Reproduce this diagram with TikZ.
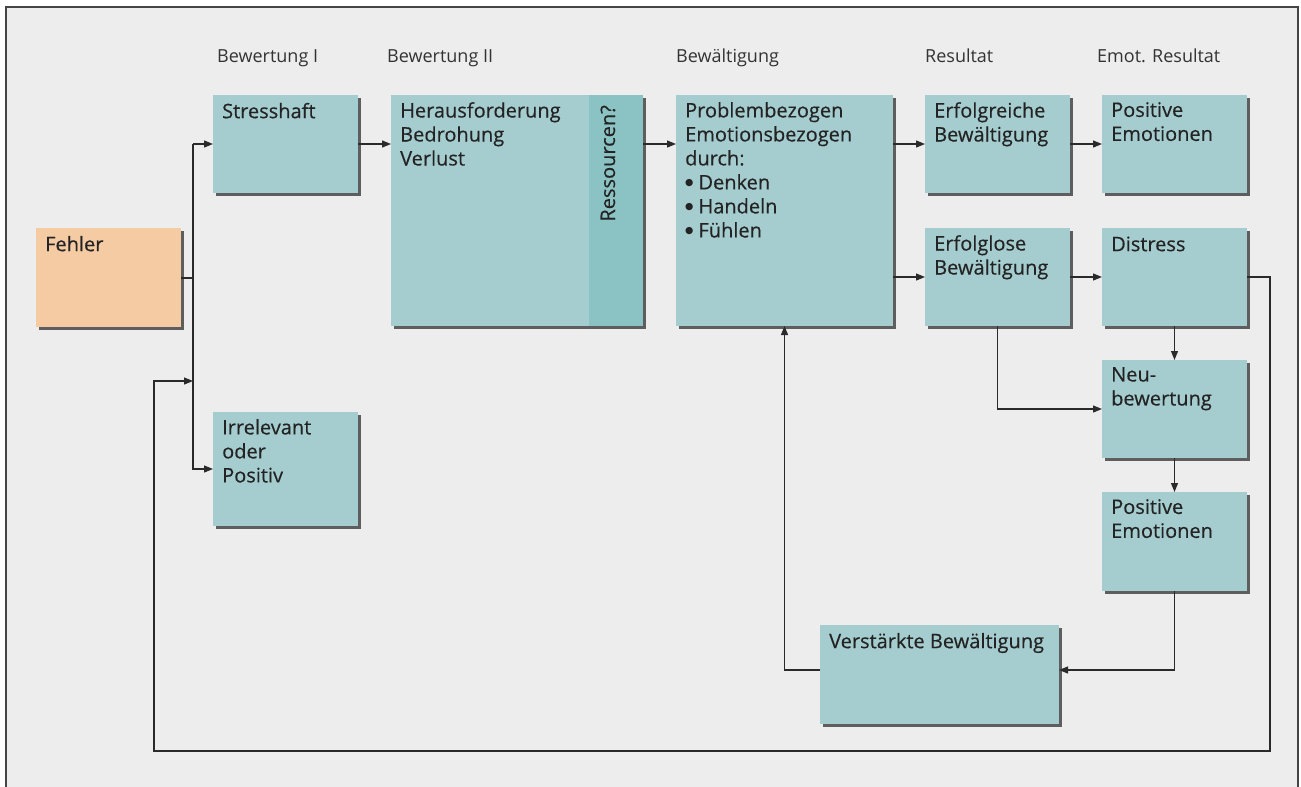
\documentclass[tikz,border=0pt]{standalone}
\usepackage{fontspec}
\setmainfont{Open Sans}
\newfontfamily\boxfamily{Open Sans}[FakeBold=0.35]
\newfontfamily\symfamily{DejaVu Sans}
\usetikzlibrary{arrows.meta,shadows}

\definecolor{framebg}{HTML}{EDEDED}
\definecolor{framebd}{HTML}{454545}
\definecolor{teal}{HTML}{A5CDCF}
\definecolor{tealdark}{HTML}{8BC2C3}
\definecolor{peach}{HTML}{F4CBA3}
\definecolor{ink}{HTML}{232323}
\definecolor{headink}{HTML}{333333}
\definecolor{wire}{HTML}{2A2A2A}

% list bullet as set in the boxes
\newcommand{\dotitem}{{\symfamily\fontsize{9.5}{24}\selectfont\raisebox{3.5pt}{●}}\hspace{5pt}}

\tikzset{
  box/.style={rectangle, fill=teal, inner sep=0pt, outer sep=0pt, anchor=north west,
    drop shadow={shadow xshift=2.5pt, shadow yshift=-2.5pt, fill=black, opacity=0.6}},
  errbox/.style={box, fill=peach},
  boxtext/.style={anchor=north west, inner sep=0pt, align=left, text=ink,
    font=\boxfamily\fontsize{20}{24}\selectfont, execute at begin node={\rule{0pt}{16pt}}},
  head/.style={anchor=base west, inner sep=0pt, text=headink,
    font=\fontsize{18}{22}\selectfont},
  wireline/.style={draw=wire, line width=1.2pt},
  arrow/.style={wireline, -{Triangle[length=9pt,width=7pt]}},
}

\begin{document}
\begin{tikzpicture}[x=1pt, y=-1pt]
  \useasboundingbox (0,0) rectangle (1301,787);
  \fill[white] (0,0) rectangle (1301,787);

  % frame
  \fill[framebg] (6,7) rectangle (1298,787);
  \draw[framebd, line width=1.6pt] (6,787) -- (6,7) -- (1298,7) -- (1298,787);

  % column headings
  \node[head] (h1) at (217,62) {Bewertung I};
  \node[head] (h2) at (387,62) {Bewertung II};
  \node[head] (h3) at (676,62) {Bewältigung};
  \node[head] (h4) at (925,62) {Resultat};
  \node[head] (h5) at (1097,62) {Emot. Resultat};

  % boxes
  \node[errbox, minimum width=145pt, minimum height=99pt] (fehler) at (36,228) {};
  \node[box, minimum width=145pt, minimum height=98pt] (stress) at (213,95) {};
  \node[box, minimum width=145pt, minimum height=114pt] (irr) at (213,412) {};
  \node[box, minimum width=252pt, minimum height=231pt] (bew2) at (391,95) {};
  \node[rectangle, fill=tealdark, inner sep=0pt, outer sep=0pt, anchor=north east,
        minimum width=54pt, minimum height=231pt] (res) at (bew2.north east) {};
  \node[box, minimum width=217pt, minimum height=231pt] (bewael) at (676,95) {};
  \node[box, minimum width=145pt, minimum height=98pt] (erfolgr) at (925,95) {};
  \node[box, minimum width=145pt, minimum height=98pt] (pos1) at (1102,95) {};
  \node[box, minimum width=145pt, minimum height=98pt] (erfolgl) at (925,228) {};
  \node[box, minimum width=145pt, minimum height=98pt] (distress) at (1102,228) {};
  \node[box, minimum width=145pt, minimum height=98pt] (neu) at (1102,360) {};
  \node[box, minimum width=145pt, minimum height=99pt] (pos2) at (1102,492) {};
  \node[box, minimum width=239pt, minimum height=99pt] (verst) at (820,625) {};

  % box texts
  \node[boxtext] (fehler-t) at ([xshift=9pt,yshift=-7pt]fehler.north west) {Fehler};
  \node[boxtext] (stress-t) at ([xshift=9pt,yshift=-7pt]stress.north west) {Stresshaft};
  \node[boxtext] (irr-t) at ([xshift=9pt,yshift=-7pt]irr.north west) {Irrelevant\\oder\\Positiv};
  \node[boxtext] (bew2-t) at ([xshift=9pt,yshift=-7pt]bew2.north west) {Herausforderung\\Bedrohung\\Verlust};
  \node[anchor=base east, inner sep=0pt, rotate=90, text=ink,
        font=\boxfamily\fontsize{20}{24}\selectfont] (res-t) at (615,105) {Ressourcen?};
  \node[boxtext] (bewael-t) at ([xshift=9pt,yshift=-7pt]bewael.north west)
    {Problembezogen\\Emotionsbezogen\\durch:\\\dotitem Denken\\\dotitem Handeln\\\dotitem Fühlen};
  \node[boxtext] (erfolgr-t) at ([xshift=9pt,yshift=-7pt]erfolgr.north west) {Erfolgreiche\\Bewältigung};
  \node[boxtext] (pos1-t) at ([xshift=9pt,yshift=-7pt]pos1.north west) {Positive\\Emotionen};
  \node[boxtext] (erfolgl-t) at ([xshift=9pt,yshift=-7pt]erfolgl.north west) {Erfolglose\\Bewältigung};
  \node[boxtext] (distress-t) at ([xshift=9pt,yshift=-7pt]distress.north west) {Distress};
  \node[boxtext] (neu-t) at ([xshift=9pt,yshift=-7pt]neu.north west) {Neu-\\bewertung};
  \node[boxtext] (pos2-t) at ([xshift=9pt,yshift=-7pt]pos2.north west) {Positive\\Emotionen};
  \node[boxtext] (verst-t) at ([xshift=9pt,yshift=-7pt]verst.north west) {Verstärkte Bewältigung};

  % routing points
  \coordinate (busx) at (193,0);
  \coordinate (fbR) at (1270,751);
  \coordinate (fbL) at (154,381);
  \coordinate (fbIn) at (193,381);
  \coordinate (vy) at (0,670);

  % connectors
  \draw[wireline, line width=2pt] (fehler.east) -- (fehler.east -| busx);
  \draw[arrow] (stress.west -| busx) -- (stress.west);
  \draw[arrow] (stress.west -| busx) |- (irr.west);
  \draw[arrow] (stress.east) -- (stress.east -| bew2.west);
  \draw[arrow] (bew2.east |- stress.east) -- (bewael.west |- stress.east);
  \draw[arrow] (bewael.east |- erfolgr.west) -- (erfolgr.west);
  \draw[arrow] (bewael.east |- erfolgl.west) -- (erfolgl.west);
  \draw[arrow] (erfolgr.east) -- (pos1.west);
  \draw[arrow] (erfolgl.east) -- (distress.west);
  \draw[arrow] (distress.south) -- (neu.north);
  \draw[arrow] (erfolgl.south) |- (neu.west);
  \draw[arrow] (neu.south) -- (pos2.north);
  \draw[arrow] (pos2.south) |- (verst.east |- vy);
  \draw[arrow] (verst.west |- vy) -| (bewael.south);
  \draw[arrow] (distress.east) -| (fbR) -| (fbL) -- (fbIn);
\end{tikzpicture}
\end{document}
